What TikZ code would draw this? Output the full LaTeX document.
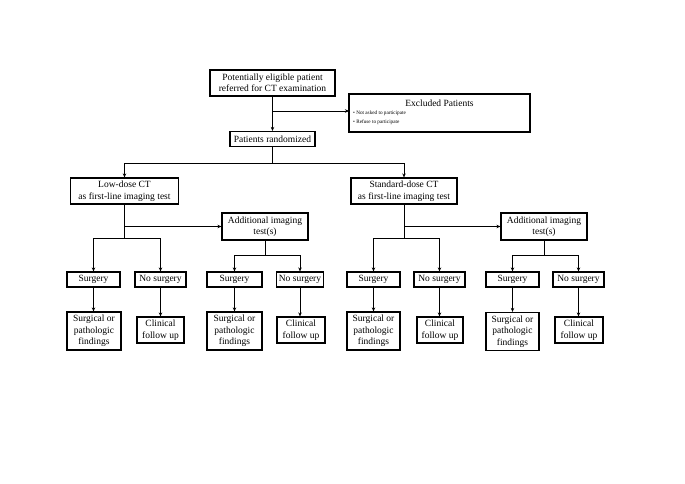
\documentclass[tikz,border=0pt]{standalone}
\usepackage{fontspec}
\setmainfont{Liberation Serif}
\usetikzlibrary{arrows.meta}
\begin{document}
\begin{tikzpicture}[x=1pt,y=-1pt,
  box/.style={draw, line width=1.2pt, inner sep=0pt, align=center,
    font=\fontsize{9.5}{11.5}\selectfont},
  con/.style={line width=0.9pt},
  arr/.style={con, -{Stealth[length=4pt,width=3.5pt]}}]
\useasboundingbox (0,0) rectangle (685,484);
\fill[white] (0,0) rectangle (685,484);
% top
\node[box, minimum width=125pt, minimum height=26pt] (top) at (272.5,83) {Potentially eligible patient\\referred for CT examination};
\node[box, minimum width=181pt, minimum height=38pt] (excl) at (439.5,113) {};
\node[font=\fontsize{9.5}{11.5}\selectfont, inner sep=0pt] (exclt) at (439.5,103) {Excluded Patients};
\node[font=\fontsize{5.2}{6}\selectfont, inner sep=0pt, anchor=west] (b1) at (353,113.5) {• Not asked to participate};
\node[font=\fontsize{5.2}{6}\selectfont, inner sep=0pt, anchor=west] (b2) at (353,122) {• Refuse to participate};
\node[box, minimum width=85pt, minimum height=15pt] (rand) at (272.5,139) {Patients randomized};
% arms
\node[box, minimum width=108pt, minimum height=26pt] (low) at (124.5,191) {Low-dose CT\\as first-line imaging test};
\node[box, minimum width=106pt, minimum height=26pt] (std) at (404,191) {Standard-dose CT\\as first-line imaging test};
\node[box, minimum width=86pt, minimum height=27pt] (addL) at (265,226.5) {Additional imaging\\test(s)};
\node[box, minimum width=86pt, minimum height=27pt] (addR) at (544,226.5) {Additional imaging\\test(s)};
% surgery row
\node[box, minimum width=53pt, minimum height=15pt] (s1) at (93.5,279.5) {Surgery};
\node[box, minimum width=51pt, minimum height=15pt] (n1) at (160.5,279.5) {No surgery};
\node[box, minimum width=55pt, minimum height=15pt] (s2) at (234.5,279.5) {Surgery};
\node[box, minimum width=47pt, minimum height=15pt] (n2) at (300,279.5) {No surgery};
\node[box, minimum width=53pt, minimum height=15pt] (s3) at (373.5,279.5) {Surgery};
\node[box, minimum width=51pt, minimum height=15pt] (n3) at (439.5,279.5) {No surgery};
\node[box, minimum width=53pt, minimum height=15pt] (s4) at (512.5,279.5) {Surgery};
\node[box, minimum width=51pt, minimum height=15pt] (n4) at (578.5,279.5) {No surgery};
% outcome row
\node[box, minimum width=54pt, minimum height=38pt] (f1) at (94,331) {Surgical or\\pathologic\\findings};
\node[box, minimum width=55pt, minimum height=38pt] (f2) at (234.5,331) {Surgical or\\pathologic\\findings};
\node[box, minimum width=53pt, minimum height=38pt] (f3) at (373.5,331) {Surgical or\\pathologic\\findings};
\node[box, minimum width=53pt, minimum height=38pt] (f4) at (512.5,331.5) {Surgical or\\pathologic\\findings};
\node[box, minimum width=47pt, minimum height=26pt] (c1) at (160.5,330) {Clinical\\follow up};
\node[box, minimum width=48pt, minimum height=26pt] (c2) at (301,330) {Clinical\\follow up};
\node[box, minimum width=46pt, minimum height=26pt] (c3) at (440,330) {Clinical\\follow up};
\node[box, minimum width=48pt, minimum height=26pt] (c4) at (579,330) {Clinical\\follow up};
% coordinates
\coordinate (ex) at (349,111);
\coordinate (r1) at (272.5,163);
\coordinate (bl) at (124.5,238);
\coordinate (br) at (404,238);
\coordinate (al) at (265,255);
\coordinate (ar) at (544,255);
% connectors
\draw[arr] (top) -- (rand);
\draw[arr] (top.south |- ex) -- (ex);
\draw[con] (rand) -- (r1);
\draw[arr] (r1) -| (low);
\draw[arr] (r1) -| (std);
\draw[con] (low) -- (bl);
\draw[arr] (low.south |- addL.west) -- (addL.west);
\draw[arr] (bl) -| (s1);
\draw[arr] (bl) -| (n1);
\draw[con] (std) -- (br);
\draw[arr] (std.south |- addR.west) -- (addR.west);
\draw[arr] (br) -| (s3);
\draw[arr] (br) -| (n3);
\draw[con] (addL) -- (al);
\draw[arr] (al) -| (s2);
\draw[arr] (al) -| (n2);
\draw[con] (addR) -- (ar);
\draw[arr] (ar) -| (s4);
\draw[arr] (ar) -| (n4);
\draw[arr] (s1) -- (s1 |- f1.north);
\draw[arr] (n1) -- (n1 |- c1.north);
\draw[arr] (s2) -- (s2 |- f2.north);
\draw[arr] (n2) -- (n2 |- c2.north);
\draw[arr] (s3) -- (s3 |- f3.north);
\draw[arr] (n3) -- (n3 |- c3.north);
\draw[arr] (s4) -- (s4 |- f4.north);
\draw[arr] (n4) -- (n4 |- c4.north);
\end{tikzpicture}
\end{document}
